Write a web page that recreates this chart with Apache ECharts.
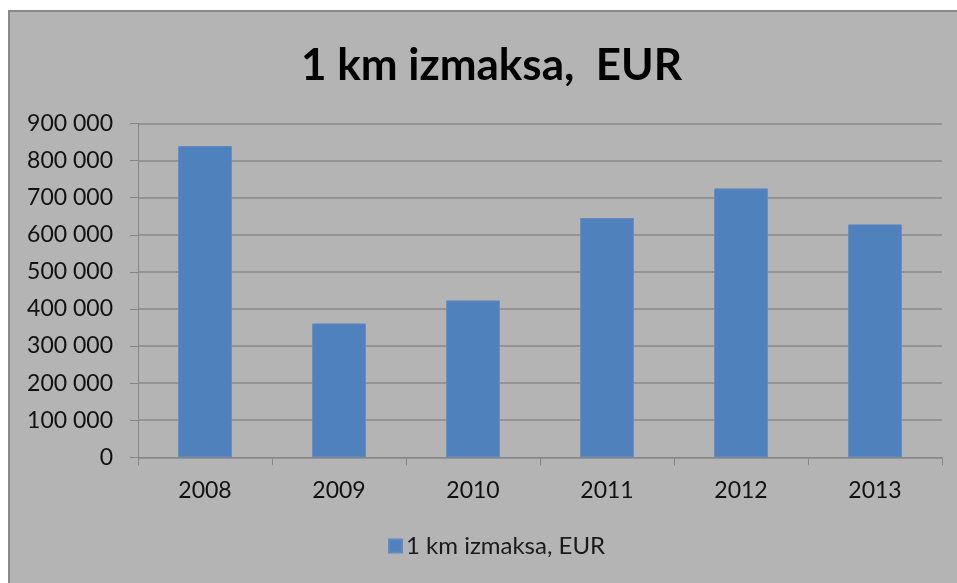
<!DOCTYPE html>
<html>
<head>
<meta charset="utf-8">
<script src="https://cdn.jsdelivr.net/npm/echarts@6/dist/echarts.min.js"></script>
<style>
  html, body { margin: 0; padding: 0; background: #ffffff; }
  #panel { position: absolute; left: 8px; top: 10px; right: 0; bottom: 0;
           background: #b4b4b4; border-top: 2px solid #8a8a8a; border-left: 2px solid #8a8a8a; }
  #chart { position: absolute; left: 0; top: 0; width: 957px; height: 583px; }
</style>
</head>
<body>
<div id="panel"></div>
<div id="chart"></div>
<script>
const titleText = '1 km izmaksa,  EUR';
const seriesName = '1 km izmaksa, EUR';
const categories = ['2008', '2009', '2010', '2011', '2012', '2013'];
const values = [839000, 361000, 423000, 645000, 725000, 628000];
const yMin = 0, yMax = 900000, yStep = 100000;

const fontFam = 'Lato, "Open Sans", sans-serif';
function fmt(v) {
  return String(v).replace(/\B(?=(\d{3})+(?!\d))/g, ' ');
}
const chart = echarts.init(document.getElementById('chart'), null, { renderer: 'canvas' });
chart.setOption({
  backgroundColor: 'transparent',
  animation: false,
  title: {
    text: titleText, left: 296, top: 39,
    textStyle: { fontFamily: fontFam, fontWeight: 'bold', fontSize: 44, color: '#000' }
  },
  legend: {
    data: [seriesName], bottom: 20, left: 383,
    icon: 'rect', itemWidth: 13, itemHeight: 13, itemGap: 6,
    textStyle: { fontFamily: fontFam, fontSize: 24, color: '#1a1a1a', padding: [0, 0, 0, -1] }
  },
  grid: { left: 138, right: 15, top: 123.5, bottom: 125.7, containLabel: false },
  xAxis: {
    type: 'category', data: categories,
    axisLine: { lineStyle: { color: '#868686', width: 1 } },
    axisTick: { show: true, length: 8, lineStyle: { color: '#868686' } },
    axisLabel: { margin: 22, fontFamily: fontFam, fontSize: 23, color: '#111' }
  },
  yAxis: {
    type: 'value', min: yMin, max: yMax, interval: yStep,
    axisLine: { show: true, lineStyle: { color: '#868686', width: 1 } },
    axisTick: { show: true, length: 8, lineStyle: { color: '#868686' } },
    splitLine: { lineStyle: { color: '#8a8a8a', width: 1.5 } },
    axisLabel: { margin: 25, fontFamily: fontFam, fontSize: 23, color: '#111', formatter: fmt }
  },
  series: [{
    name: seriesName, type: 'bar', data: values,
    barCategoryGap: '60%',
    itemStyle: { color: '#4f81bd', borderColor: '#6089c0', borderWidth: 1 }
  }]
});
</script>
</body>
</html>
